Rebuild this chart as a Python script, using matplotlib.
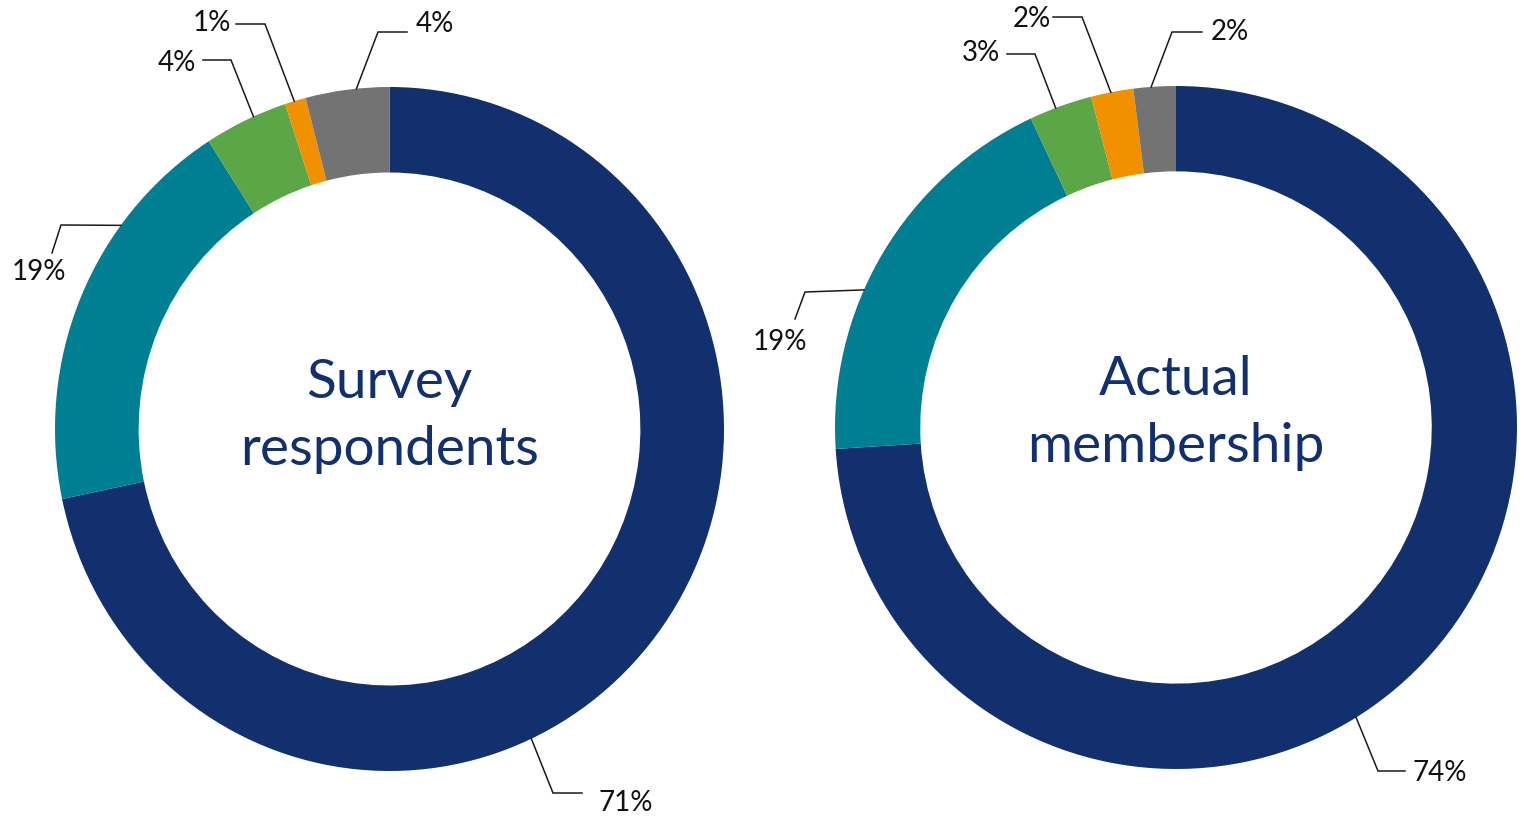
import numpy as np
import matplotlib
matplotlib.use("Agg")
import matplotlib.pyplot as plt

# data
segments = ["Group A", "Group B", "Group C", "Group D", "Other"]
colors = ["#12306d", "#007e92", "#5ba646", "#f29100", "#737373"]
survey_values = [71, 19, 4, 1, 4]
member_values = [74, 19, 3, 2, 2]
survey_title = "Survey\nrespondents"
member_title = "Actual\nmembership"

W, H = 1524, 819
plt.rcParams['font.family'] = ['Lato', 'DejaVu Sans']

# layout (pixels): donut box, where each leader attaches (fraction of wedge),
# elbow, end of horizontal tick and label centre
survey_layout = dict(
    box=(55, 87, 724, 771),
    attach=[0.60, 0.70, 0.60, 0.45, 0.61],
    elbow=[(553, 793), (61, 225), (231, 60), (265, 24), (378, 32)],
    end=[(582, 793), (52, 253), (203, 60), (236, 24), (407, 32)],
    text=[(626, 803), (39, 272), (177, 63), (212, 23), (435, 24)],
    title_y=416,
)
member_layout = dict(
    box=(835, 86, 1517, 769),
    attach=[0.556, 0.40, 0.42, 0.47, 0.42],
    elbow=[(1378, 771), (805, 292), (1035, 54), (1082, 17), (1172, 32)],
    end=[(1405, 771), (795, 319), (1007, 54), (1053, 17), (1202, 32)],
    text=[(1440, 773), (780, 342), (981, 53), (1032, 19), (1230, 32)],
    title_y=413,
)

fig = plt.figure(figsize=(W / 100, H / 100), dpi=100)
fig.patch.set_facecolor('white')

overlay = fig.add_axes([0, 0, 1, 1], zorder=5)
overlay.set_xlim(0, W)
overlay.set_ylim(H, 0)
overlay.axis('off')
overlay.patch.set_alpha(0)


def draw_donut(values, title, lay):
    x0, y0, x1, y1 = lay['box']
    ax = fig.add_axes([x0 / W, 1 - y1 / H, (x1 - x0) / W, (y1 - y0) / H])
    wedges, _ = ax.pie(values, colors=colors, startangle=90, counterclock=False,
                       radius=1, frame=False,
                       wedgeprops=dict(width=0.25, linewidth=0))
    ax.set_aspect('auto')
    ax.set_xlim(-1, 1)
    ax.set_ylim(-1, 1)
    ax.axis('off')

    cx, cy = (x0 + x1) / 2, (y0 + y1) / 2
    rx, ry = (x1 - x0) / 2, (y1 - y0) / 2
    total = sum(values)
    for i, w in enumerate(wedges):
        # wedges run clockwise, so start from theta2
        t1, t2 = w.theta1, w.theta2
        ang = np.deg2rad(t2 - lay['attach'][i] * (t2 - t1))
        sx = cx + rx * np.cos(ang)
        sy = cy - ry * np.sin(ang)
        ex, ey = lay['elbow'][i]
        fx, fy = lay['end'][i]
        overlay.plot([sx, ex, fx], [sy, ey, fy], color='#1a1a1a', lw=1.1,
                     solid_joinstyle='miter')
        tx, ty = lay['text'][i]
        overlay.text(tx, ty, f"{values[i]}%",
                     ha='center', va='center', fontsize=20, color='#111111')

    overlay.text(cx, lay['title_y'], title, ha='center', va='center',
                 fontsize=39.5, color='#12306d', linespacing=1.45)


draw_donut(survey_values, survey_title, survey_layout)
draw_donut(member_values, member_title, member_layout)

fig.savefig("out.png", dpi=100, facecolor='white')
